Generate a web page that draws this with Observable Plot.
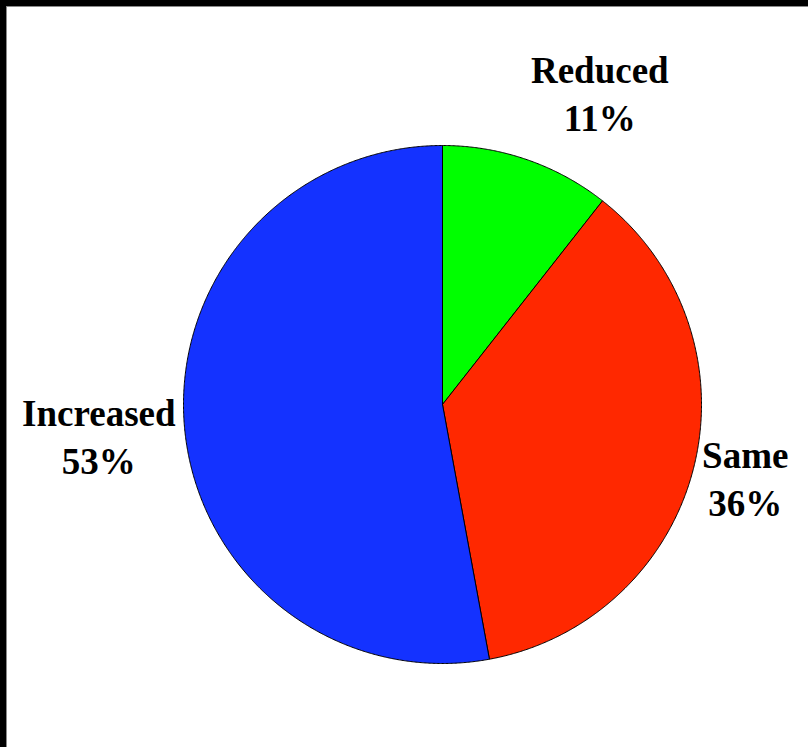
<!DOCTYPE html>
<html><head><meta charset="utf-8">
<script src="https://cdn.jsdelivr.net/npm/d3@7"></script>
<script src="https://cdn.jsdelivr.net/npm/@observablehq/plot@0.6"></script>
<style>
body{margin:0;background:#fff}
#wrap{position:relative;width:808px;height:747px;overflow:hidden;background:#fff}
.b{position:absolute;background:#000}
.g{position:absolute;background:#8a8a8a}
</style>
</head><body>
<div id="wrap"><div id="chart"></div>
<div class="b" style="left:0;top:0;width:808px;height:6px"></div>
<div class="b" style="left:0;top:0;width:6px;height:747px"></div>
<div class="g" style="left:6px;top:6px;width:802px;height:1px"></div>
<div class="g" style="left:6px;top:6px;width:1px;height:741px"></div>
</div>
<script>
const categories = ["Reduced", "Same", "Increased"];
const values = [10.6, 36.5, 52.9];
const pctLabels = ["11%", "36%", "53%"];
const colors = ["#00ff00", "#ff2800", "#1432ff"];

const arcs = d3.pie().sort(null)(values);
const pts = [];
arcs.forEach((a, i) => {
  const c = categories[i];
  pts.push({c, x: 0, y: 0});
  const n = Math.max(2, Math.ceil((a.endAngle - a.startAngle) / 0.005));
  for (let k = 0; k <= n; k++) {
    const t = a.startAngle + (a.endAngle - a.startAngle) * k / n;
    pts.push({c, x: Math.sin(t), y: Math.cos(t)});
  }
  pts.push({c, x: 0, y: 0});
});
const lab = arcs.map((a, i) => {
  const m = (a.startAngle + a.endAngle) / 2;
  return {c: categories[i], text: categories[i] + "\n" + pctLabels[i], x: 1.22 * Math.sin(m), y: 1.22 * Math.cos(m)};
});
const nudge = [[54, -14], [-4, -4], [-29, 1]];
const textStyle = {x: "x", y: "y", text: "text", fill: "black", fontFamily: "Liberation Serif", fontWeight: "bold", fontSize: 37, lineHeight: 1.3, lineAnchor: "middle", textAnchor: "middle"};

const chart = Plot.plot({
  width: 808, height: 747,
  marginLeft: 183, marginRight: 107, marginTop: 145, marginBottom: 84,
  x: {domain: [-1, 1], axis: null},
  y: {domain: [-1, 1], axis: null},
  color: {domain: categories, range: colors},
  marks: [
    Plot.line(pts, {x: "x", y: "y", z: "c", fill: "c", stroke: "black", strokeWidth: 1, curve: "linear"}),
    ...lab.map((d, i) => Plot.text([d], {...textStyle, dx: nudge[i][0], dy: nudge[i][1]}))
  ]
});
chart.style.background = "#fff";
document.getElementById("chart").appendChild(chart);
</script>
</body></html>
